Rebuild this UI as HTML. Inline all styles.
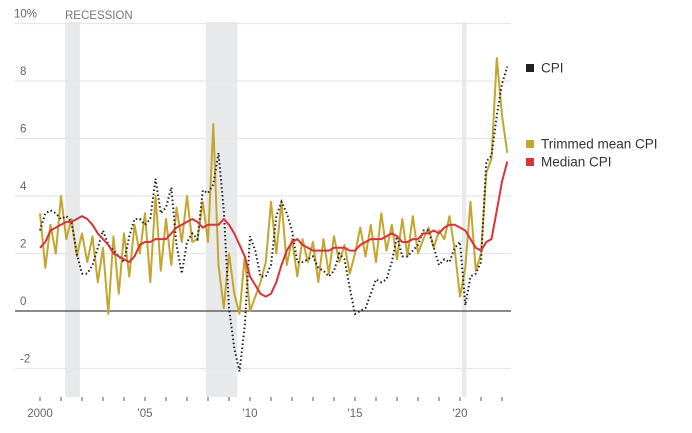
<!DOCTYPE html>
<html><head><meta charset="utf-8"><style>
body{margin:0;background:#fff;font-family:"Liberation Sans",sans-serif;}
svg text{font-family:"Liberation Sans",sans-serif;}
</style></head><body>
<svg id="chart" width="692" height="428" viewBox="0 0 692 428"></svg>
<script>
const yTicks=[10,8,6,4,2,0,-2];
const yLabels=["10%","8","6","4","2","0","-2"];
const xTicks=[2000,2005,2010,2015,2020];
const xLabels=["2000","'05","'10","'15","'20"];
const recStart=[2001.2,2007.9,2020.1];
const recEnd=[2001.9,2009.4,2020.3];
const medianCPI=[2.2,2.4,2.8,2.9,3.0,3.1,3.1,3.2,3.3,3.2,3.0,2.7,2.5,2.3,2.0,1.9,1.8,1.7,1.9,2.3,2.4,2.4,2.5,2.5,2.5,2.7,2.9,3.0,3.1,3.2,3.1,2.9,3.0,3.0,3.0,3.2,3.0,2.7,2.3,1.9,1.2,0.9,0.6,0.5,0.6,1.0,1.6,2.1,2.4,2.5,2.3,2.2,2.1,2.1,2.1,2.1,2.2,2.2,2.2,2.1,2.1,2.3,2.4,2.5,2.5,2.5,2.6,2.7,2.6,2.4,2.4,2.5,2.5,2.7,2.7,2.8,2.7,2.9,3.0,3.0,2.9,2.8,2.5,2.2,2.1,2.4,2.5,3.5,4.5,5.2];
const cpi=[2.8,3.4,3.5,3.4,3.2,3.3,3.1,2.0,1.3,1.3,1.6,2.2,2.8,2.3,2.1,1.9,1.7,2.6,3.2,3.2,3.0,3.2,4.6,3.4,3.6,4.3,2.3,1.3,2.4,2.7,2.5,4.2,4.1,4.4,5.5,3.5,0.1,-1.3,-2.1,-0.5,2.6,2.1,1.2,1.2,1.6,3.3,3.8,3.4,2.8,1.7,1.7,1.8,1.9,1.5,1.4,1.2,1.4,2.0,1.8,0.8,-0.1,0.0,0.1,0.6,1.1,1.0,1.1,1.7,2.6,1.9,1.9,2.1,2.3,2.8,2.8,2.2,1.6,1.8,1.7,2.2,2.4,0.2,1.2,1.3,1.7,5.2,5.4,6.8,7.9,8.5];
const trimmed=[3.4,1.5,3.0,2.0,4.0,2.5,3.2,1.9,2.7,1.7,2.6,1.0,2.2,-0.1,2.6,0.6,2.7,1.2,3.0,2.0,3.4,1.0,4.0,1.4,3.2,1.6,3.6,2.4,4.0,2.4,2.5,3.8,2.4,6.5,1.6,0.1,2.0,0.6,-0.1,1.9,0.0,0.5,1.0,1.7,3.8,2.0,3.8,1.6,2.5,1.2,2.5,1.7,2.4,1.0,2.5,1.3,2.6,1.7,2.3,1.3,2.0,2.9,1.9,3.0,1.7,3.4,2.1,3.0,1.8,3.2,1.9,3.3,2.0,2.5,2.9,2.2,2.8,2.5,3.3,2.1,0.5,1.5,3.8,1.4,2.0,4.8,5.3,8.8,6.8,5.5];
const startYear=2000, perYear=4;
const X=y=>40+21*(y-2000);
const Y=v=>311-28.75*v;
const svg=document.getElementById('chart');
const NS='http://www.w3.org/2000/svg';
function mk(tag,attrs,parent){const e=document.createElementNS(NS,tag);for(const k in attrs)e.setAttribute(k,attrs[k]);(parent||svg).appendChild(e);return e;}
for(let i=0;i<recStart.length;i++){
 const r=mk('rect',{x:X(recStart[i]),y:22,width:Math.max(3,X(recEnd[i])-X(recStart[i])),height:375,fill:'#e8e9eb'});
 
 
}
const rl=mk('text',{x:65,y:19,'font-size':11.5,fill:'#777'});rl.textContent='RECESSION';


for(let i=0;i<yTicks.length;i++){
 const v=yTicks[i];
 const g=mk('line',{x1:15,x2:511,y1:Y(v),y2:Y(v),stroke:v===0?'#444':'#e6e6e6','stroke-width':1.2});
 
 
 const t=mk('text',{x:v===10?14:20,y:Y(v)-6,'font-size':11.5,fill:'#666'});t.textContent=yLabels[i];
 
 
}
for(let yr=2000;yr<=2022;yr++){
 const tk=mk('line',{x1:X(yr),x2:X(yr),y1:397,y2:401,stroke:'#555','stroke-width':1});
 
 
}
for(let i=0;i<xTicks.length;i++){
 const t=mk('text',{x:X(xTicks[i]),y:417,'font-size':11.5,fill:'#666','text-anchor':'middle'});t.textContent=xLabels[i];
 
 
}
function pts(arr){return arr.map((v,i)=>X(startYear+i/perYear).toFixed(1)+','+Y(v).toFixed(1)).join(' ');}
const tl=mk('polyline',{points:pts(trimmed),fill:'none',stroke:'#c4a530','stroke-width':2,'stroke-linejoin':'round'});


const cl=mk('polyline',{points:pts(cpi),fill:'none',stroke:'#222','stroke-width':2,'stroke-dasharray':'1.5,2.5'});


const ml=mk('polyline',{points:pts(medianCPI),fill:'none',stroke:'#d7333a','stroke-width':2,'stroke-linejoin':'round'});


const legend=[["CPI","#222",68],["Trimmed mean CPI","#c4a530",144],["Median CPI","#d7333a",162]];
legend.forEach(l=>{
 const s=mk('rect',{x:526,y:l[2]-4,width:8,height:8,fill:l[1]});
 
 
 const t=mk('text',{x:541,y:l[2]+4.5,'font-size':13.5,fill:'#333'});t.textContent=l[0];
 
 
});
</script>
</body></html>
